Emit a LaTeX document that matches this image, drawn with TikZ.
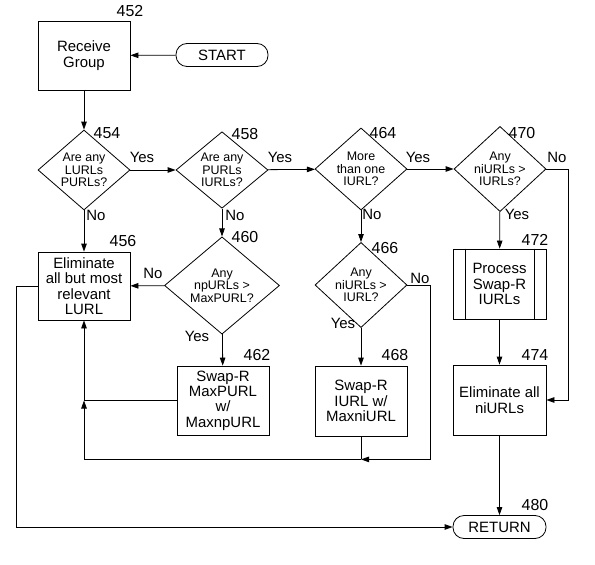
\documentclass[tikz,border=0pt]{standalone}
\usepackage{fontspec}
\setmainfont{Liberation Sans}
\usetikzlibrary{shapes.geometric,arrows.meta,calc}
\tikzset{
  ln/.style={line width=0.8bp, draw=black},
  arr/.style={ln, -{Triangle[length=8bp,width=5.5bp]}},
  boxn/.style={draw, line width=0.8bp, minimum width=92bp, minimum height=69bp, align=center, inner sep=0pt, font=\fontsize{15}{15.5}\selectfont},
  dia/.style={draw, diamond, line width=0.8bp, minimum width=92bp, minimum height=67bp, align=center, inner sep=0pt, font=\fontsize{12.5}{12.5}\selectfont},
  term/.style={draw, line width=0.8bp, rounded corners=11bp, minimum width=92bp, minimum height=23bp, inner sep=0pt, font=\fontsize{15}{15}\selectfont},
  num/.style={font=\fontsize{16}{16}\selectfont, inner sep=0pt},
  lab/.style={font=\fontsize{15}{15}\selectfont, inner sep=0pt},
}
\begin{document}
\begin{tikzpicture}[x=1bp,y=-1bp]
\useasboundingbox (0,0) rectangle (595,565);
% nodes
\node[boxn] (b452) at (84,55.5) {Receive\\Group};
\node[term] (start) at (222,55) {START};
\node[dia] (d454) at (84,170) {Are any\\LURLs\\PURLs?};
\node[dia] (d458) at (222,170) {Are any\\PURLs\\IURLs?};
\node[dia] (d464) at (361,169) {More\\than one\\IURL?};
\node[dia] (d470) at (500,169) {Any\\niURLs >\\IURLs?};
\node[boxn, minimum height=68bp] (b456) at (84,286) {Eliminate\\all but most\\relevant\\LURL};
\node[dia, minimum width=115bp, minimum height=91bp] (d460) at (222,285.5) {Any\\npURLs >\\MaxPURL?};
\node[dia, minimum height=70bp] (d466) at (361,285) {Any\\niURLs >\\IURL?};
\node[boxn, minimum width=93bp, minimum height=70bp] (b472) at (499.5,284) {Process\\Swap-R\\IURLs};
\draw[ln] ([xshift=13bp]b472.north west) -- ([xshift=13bp]b472.south west);
\draw[ln] ([xshift=-12bp]b472.north east) -- ([xshift=-12bp]b472.south east);
\node[boxn, minimum width=92bp, minimum height=69bp] (b462) at (223,400.5) {Swap-R\\MaxPURL\\w/\\MaxnpURL};
\node[boxn, minimum width=92bp, minimum height=70bp] (b468) at (361,401) {Swap-R\\IURL w/\\MaxniURL};
\node[boxn, minimum width=93bp, minimum height=70bp] (b474) at (499.5,400) {Eliminate all\\niURLs};
\node[term, minimum width=93bp] (ret) at (499.5,527) {RETURN};
% numbers
\node[num] (n452) at (130,11) {452};
\node[num] (n454) at (107,133) {454};
\node[num] (n458) at (245,134) {458};
\node[num] (n464) at (383,133) {464};
\node[num] (n470) at (522,133) {470};
\node[num] (n456) at (123,241) {456};
\node[num] (n460) at (245,237) {460};
\node[num] (n466) at (385,248) {466};
\node[num] (n472) at (535,240) {472};
\node[num] (n462) at (257,355) {462};
\node[num] (n468) at (395,355) {468};
\node[num] (n474) at (535,355) {474};
\node[num] (n480) at (535,505) {480};
% edge labels
\node[lab] (y454) at (142,157) {Yes};
\node[lab] (y458) at (280,157) {Yes};
\node[lab] (y464) at (418,157) {Yes};
\node[lab] (no470) at (557,157) {No};
\node[lab] (no454) at (96,215) {No};
\node[lab] (no458) at (235,215) {No};
\node[lab] (no464) at (372,214) {No};
\node[lab] (y470) at (517,214) {Yes};
\node[lab] (no460) at (153,273) {No};
\node[lab] (no466) at (420,278) {No};
\node[lab] (y460) at (197,336) {Yes};
\node[lab] (y466) at (343,323) {Yes};
% coordinates
\coordinate (j1) at (b456.south |- b462.west);
\coordinate (j2) at ($(b468.south)+(0,23)$);
\coordinate (r470) at (568,169);
\coordinate (r466) at (430,285);
\coordinate (l456) at (16,286);
% connectors
\draw[arr] (start) -- (b452);
\draw[arr] (b452) -- (d454);
\draw[arr] (d454) -- (d458);
\draw[arr] (d458) -- (d464);
\draw[arr] (d464) -- (d470);
\draw[arr] (d454) -- (b456);
\draw[arr] (d458) -- (d460);
\draw[arr] (d464) -- (d466);
\draw[arr] (d470) -- (b472);
\draw[arr] (d460) -- (b456);
\draw[arr] (d460) -- (b462);
\draw[arr] (d466) -- (b468);
\draw[arr] (b472) -- (b474);
\draw[arr] (d470.east) -- (r470) |- (b474.east);
\draw[ln] (b462.west) -- (j1);
\draw[ln] (b468.south) -- (j2);
\draw[arr] (d466.east) -- (r466) |- (j2);
\draw[arr] (j2) -| (j1);
\draw[arr] (j1) -- (b456.south);
\draw[arr] (b474) -- (ret);
\draw[arr] (b456.west) -- (l456) |- (ret.west);
\end{tikzpicture}
\end{document}
